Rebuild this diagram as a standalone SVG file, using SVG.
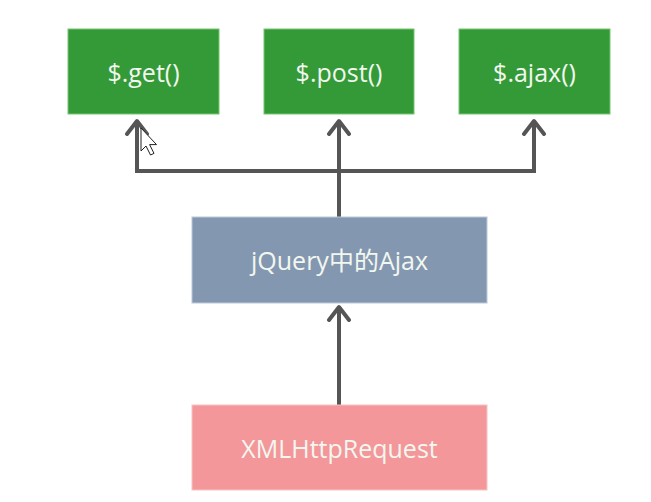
<svg xmlns="http://www.w3.org/2000/svg" width="651" height="502" viewBox="0 0 651 502">
  <style>
    .box-green { fill: #349a37; stroke: #74c66f; stroke-width: 1; }
    .box-blue { fill: #8497b0; stroke: #b9c8da; stroke-width: 1; }
    .box-red { fill: #f4979a; stroke: #f6c3c3; stroke-width: 1; }
    .label { font-family: "Open Sans", "Noto Sans", "Noto Sans CJK SC", sans-serif; font-size: 25px; fill: #f2f7ef; text-anchor: middle; dominant-baseline: central; }
    .wire { fill: none; stroke: #555555; stroke-width: 4; stroke-linejoin: miter; }
  </style>
  <defs>
    <marker id="arrow" markerUnits="userSpaceOnUse" markerWidth="30" markerHeight="30" viewBox="-15 -15 30 30" refX="0" refY="0" orient="auto">
      <path d="M -13 -10 L 0 0 L -13 10" fill="none" stroke="#555555" stroke-width="4" stroke-linecap="round" stroke-linejoin="round"/>
    </marker>
  </defs>
  <rect width="651" height="502" fill="#ffffff"/>

  <!-- connectors -->
  <g id="connectors">
    <path class="wire" d="M 339 217 L 339 171"/>
    <path class="wire" d="M 137 171 L 534 171"/>
    <path class="wire" d="M 137 173 L 137 121" marker-end="url(#arrow)"/>
    <path class="wire" d="M 339 173 L 339 121" marker-end="url(#arrow)"/>
    <path class="wire" d="M 534 173 L 534 121" marker-end="url(#arrow)"/>
    <path class="wire" d="M 339 405 L 339 307" marker-end="url(#arrow)"/>
  </g>

  <g id="node-get">
    <rect class="box-green" x="68" y="29" width="151" height="85"/>
    <text class="label" x="143.5" y="72">$.get()</text>
  </g>
  <g id="node-post">
    <rect class="box-green" x="264" y="29" width="150" height="85"/>
    <text class="label" x="339" y="72">$.post()</text>
  </g>
  <g id="node-ajax">
    <rect class="box-green" x="459" y="29" width="151" height="85"/>
    <text class="label" x="534.5" y="72">$.ajax()</text>
  </g>
  <g id="node-jquery">
    <rect class="box-blue" x="192" y="217" width="295" height="86"/>
    <text class="label" x="339.5" y="260">jQuery中的Ajax</text>
  </g>
  <g id="node-xhr">
    <rect class="box-red" x="192" y="405" width="295" height="85"/>
    <text class="label" x="339.5" y="447.5">XMLHttpRequest</text>
  </g>

  <!-- mouse pointer -->
  <path d="M 141 128 L 141 151 L 146 146 L 150.5 155 L 154 153.4 L 149.6 144.6 L 156.5 144.6 Z" fill="#ffffff" stroke="#222222" stroke-width="1" stroke-linejoin="miter"/>
</svg>
